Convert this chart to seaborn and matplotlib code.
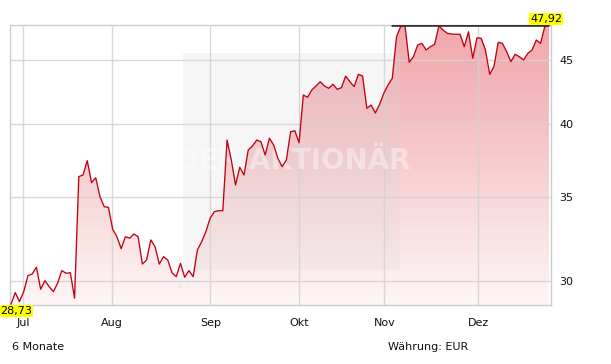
import numpy as np
import pandas as pd
import matplotlib
matplotlib.use("Agg")
import matplotlib.pyplot as plt
import seaborn as sns
from matplotlib.colors import LinearSegmentedColormap
from matplotlib.ticker import NullLocator, FixedLocator
from matplotlib.patches import Rectangle
from matplotlib import font_manager

# ---------------- data ----------------
prices = [
    28.73, 29.35, 28.87, 29.40, 30.28, 30.37, 30.75, 29.53, 30.00, 29.67,
    29.40, 29.86, 30.56, 30.41, 30.44, 29.05,
    36.31, 36.42, 37.39, 35.91, 36.24, 35.00, 34.36, 34.32, 32.97, 32.52,
    31.81, 32.52, 32.43, 32.68, 32.52, 30.93, 31.16, 32.33, 31.93, 30.93,
    31.35, 31.16, 30.44, 30.22, 30.97, 30.19, 30.56, 30.22,
    31.74, 32.22, 32.82, 33.64, 34.05, 34.11, 34.11, 38.83, 37.44, 35.76,
    36.94, 36.42, 38.13, 38.41, 38.83, 38.71, 37.78, 38.96, 38.48, 37.55,
    36.98, 37.44, 39.43, 39.50, 38.64, 42.18, 42.00, 42.57, 42.88, 43.22,
    42.88, 42.70, 43.02, 42.62, 42.75, 43.67, 43.22, 42.83, 43.81, 43.67,
    41.16, 41.41, 40.81,
    41.46, 42.31, 42.96, 43.49, 46.94, 47.85, 47.92, 44.79, 45.25, 46.23,
    46.37, 45.81, 46.09, 46.29, 47.88, 47.52, 47.23, 47.17, 47.15, 47.15,
    46.09, 47.37, 45.12, 46.85, 46.80, 45.81, 43.81, 44.43, 46.46, 46.37,
    45.67, 44.84, 45.45, 45.25, 44.98, 45.53, 45.81, 46.66, 46.37, 47.81,
    47.92,
]
month_labels = ["Jul", "Aug", "Sep", "Okt", "Nov", "Dez"]
month_pos = [2.90, 23.91, 47.05, 68.06, 88.12, 110.32]   # trading-day index
y_ticks = [30, 35, 40, 45]
y_tick_labels = ["30", "35", "40", "45"]
max_value = 47.92
min_value = 28.73
max_line_start = 89.6
currency_text = "Währung: EUR"
period_text = "6 Monate"
watermark = "DER AKTIONÄR"

df = pd.DataFrame({"day": np.arange(len(prices)), "price": prices})

# ---------------- figure ----------------
sns.set_style("white")
plt.rcParams["font.family"] = ["DejaVu Sans"]

installed = {f.name for f in font_manager.fontManager.ttflist}
wm_family = "Liberation Sans Narrow" if "Liberation Sans Narrow" in installed else "DejaVu Sans"

W, H = 611, 364
fig = plt.figure(figsize=(W / 100, H / 100), dpi=100)
L, R, T, B = 10, 550.7, 25, 305
ax = fig.add_axes([L / W, 1 - B / H, (R - L) / W, (B - T) / H])
ax.set_yscale("log")

# gradient fill under the line
poly = ax.fill_between(df["day"], df["price"], 20, facecolor="none", edgecolor="none")
cmap = LinearSegmentedColormap.from_list(
    "g", ["#fef6f6", "#f9dcdd", "#f4bfc2", "#f0a7ab"])
grad = np.linspace(0, 1, 256).reshape(-1, 1)
img = ax.imshow(grad, extent=[0, 1, 0, 1], transform=ax.transAxes,
                aspect="auto", cmap=cmap, origin="lower", zorder=1)
img.set_clip_path(poly.get_paths()[0], transform=ax.transData)

# price line
sns.lineplot(data=df, x="day", y="price", ax=ax, color="#c20012",
             linewidth=0.95, zorder=3, legend=False)

# max horizontal line
ax.hlines(max_value, max_line_start, df["day"].iloc[-1], color="#333333",
          linewidth=1.9, zorder=4)

ax.set_xlim(-0.24, 127.4)
ax.set_ylim(28.69, 47.96)

# grid
ax.set_axisbelow(False)
ax.xaxis.set_major_locator(FixedLocator(month_pos))
ax.set_xticklabels(month_labels)
ax.yaxis.set_major_locator(FixedLocator(y_ticks))
ax.yaxis.set_minor_locator(NullLocator())
ax.set_yticklabels(y_tick_labels)
ax.yaxis.tick_right()
ax.grid(True, color="#d2d2d2", linewidth=1.0, alpha=0.85, zorder=2.5)
ax.tick_params(axis="both", length=0, labelsize=8, colors="#111111")
ax.tick_params(axis="x", pad=9)
ax.tick_params(axis="y", pad=6)
ax.set_xlabel("")
ax.set_ylabel("")
for s in ax.spines.values():
    s.set_color("#cccccc")
    s.set_linewidth(1.0)

# watermark box + text
ax.add_patch(Rectangle((0.32, 0.125), 0.401, 0.775, transform=ax.transAxes,
                       facecolor="#d6d6d6", alpha=0.2, edgecolor="none",
                       zorder=2.6))
ax.text(0.523, 0.514, watermark, transform=ax.transAxes, ha="center",
        va="center", fontsize=24 if wm_family != "DejaVu Sans" else 20,
        fontweight="bold", color="white",
        alpha=0.4, zorder=2.7, family=wm_family)

# yellow value labels
fig.text(0.5 / W, 1 - 311 / H, "28,73", ha="left", va="center", fontsize=8,
         color="black", bbox=dict(boxstyle="square,pad=0.1", fc="#ffff00",
                                  ec="none"))
fig.text(562 / W, 1 - 19 / H, "47,92", ha="right", va="center", fontsize=8,
         color="black", bbox=dict(boxstyle="square,pad=0.1", fc="#ffff00",
                                  ec="none"))

# footer texts
fig.text(12 / W, 1 - 347 / H, period_text, ha="left", va="center",
         fontsize=8, color="#111111")
fig.text(428 / W, 1 - 347 / H, currency_text, ha="center", va="center",
         fontsize=8, color="#111111")

fig.savefig("out.png", dpi=100)
